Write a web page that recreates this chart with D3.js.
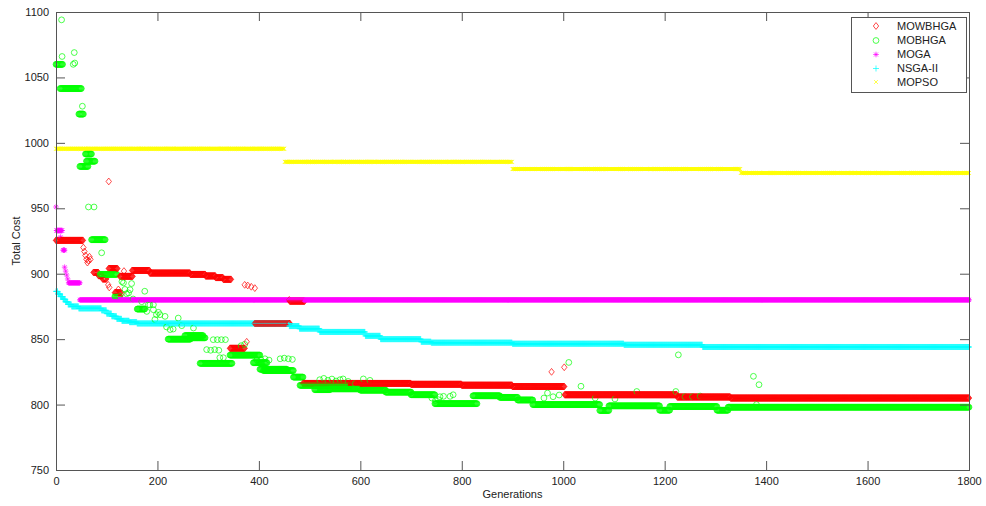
<!DOCTYPE html>
<html>
<head>
<meta charset="utf-8">
<script src="https://cdn.jsdelivr.net/npm/d3@7"></script>
<style>
  html, body { margin: 0; padding: 0; background: #fff; }
  svg { display: block; font-family: 'Liberation Sans', Arial, Helvetica, sans-serif; }
</style>
</head>
<body>
<div id="chart"></div>
<script>
// Series order as in the legend
const seriesNames = ['MOWBHGA', 'MOBHGA', 'MOGA', 'NSGA-II', 'MOPSO'];
const xTicks = [0, 200, 400, 600, 800, 1000, 1200, 1400, 1600, 1800];
const yTicks = [750, 800, 850, 900, 950, 1000, 1050, 1100];

// Runs: [firstGen, lastGen, totalCost], one marker per generation
const mowbhgaRuns = [
  [0, 53, 925.5], [74, 83, 901], [84, 91, 898.5], [92, 99, 896], [104, 121, 904],
  [116, 127, 885.5], [126, 151, 898], [150, 184, 902.5], [185, 264, 900.5],
  [265, 294, 899.5], [295, 314, 898.3], [315, 329, 897], [330, 345, 895.7],
  [343, 372, 843], [392, 461, 862], [461, 490, 879], [487, 699, 816.2],
  [700, 799, 815.5], [800, 899, 814.8], [900, 1002, 813.8], [1003, 1224, 807.5],
  [1225, 1329, 805.8], [1330, 1800, 805]
];
const mowbhgaPoints = [
  [54, 920], [56, 917], [58, 914], [60, 911], [62, 908.5], [64, 910], [66, 913], [68, 911],
  [103, 891.5], [104, 970.5], [105, 889.5], [123, 888], [130, 885], [134, 902],
  [372, 891.5], [376, 848], [378, 891], [385, 890], [392, 889], [460, 880],
  [977, 825], [1002, 828.5]
];

const mobhgaRuns = [
  [0, 13, 1060], [8, 50, 1041.5], [45, 54, 1022], [47, 63, 982], [58, 70, 991.5],
  [60, 77, 986], [70, 97, 926], [87, 120, 899.5], [116, 126, 882.6], [160, 175, 873],
  [221, 265, 850], [254, 290, 852.7], [264, 294, 851], [284, 347, 831.5],
  [343, 402, 837.8], [389, 416, 832], [402, 455, 827], [409, 468, 826], [468, 487, 821],
  [481, 580, 814.7], [510, 540, 811.4], [540, 600, 812], [600, 650, 811],
  [650, 700, 809.5], [700, 747, 807.5], [747, 830, 800.7], [822, 875, 806.7],
  [875, 910, 805.5], [910, 940, 803.5], [940, 1072, 800], [1072, 1090, 795.5],
  [1090, 1190, 799], [1190, 1210, 795.7], [1210, 1303, 798.5], [1303, 1325, 795.7],
  [1325, 1800, 798]
];
const mobhgaPoints = [
  [11, 1094], [12, 1066], [34, 1060], [36, 1069], [37, 1061], [52, 1028], [64, 951], [75, 951],
  [90, 916], [130, 894], [133, 893], [136, 888], [139, 884.7], [143, 885.3], [146, 887.8],
  [149, 892.5], [152, 880.7], [169, 878.6], [175, 886.6], [179, 871.2], [182, 876.3],
  [185, 876.2], [192, 876.3], [192, 872.5], [195, 865], [198, 868.7], [202, 870.5],
  [205, 868.7], [215, 867.4], [218, 859.3], [225, 857.3], [231, 857.7], [241, 866.1],
  [248, 860.3], [271, 858.5], [297, 842], [305, 841.5], [310, 849.6], [313, 842],
  [318, 849.6], [321, 841.5], [323, 835.8], [326, 849.6], [330, 835.8], [334, 849.6],
  [365, 845], [372, 846], [396, 834], [404, 834.5], [412, 835], [420, 834], [442, 835],
  [450, 835.5], [458, 835], [466, 834.5], [520, 819], [528, 820], [536, 818.5],
  [544, 819.5], [552, 818], [560, 819], [566, 819.6], [576, 817.7], [590, 816],
  [606, 819.6], [619, 818.5], [741, 805], [748, 803], [754, 803.7], [757, 806],
  [764, 806.3], [777, 806.3], [783, 807.5], [962, 805], [969, 808.8], [980, 806],
  [992, 807.3], [1011, 832.2], [1035, 814], [1063, 805], [1102, 804.3], [1145, 810],
  [1222, 810], [1227, 838], [1240, 806], [1255, 806], [1270, 806.5], [1375, 821.6],
  [1381, 800], [1386, 815.2]
];

const mogaRuns = [[0, 0, 951], [1, 12, 933], [14, 17, 918], [25, 47, 893], [47, 1800, 880]];
const mogaPoints = [[9, 928], [17, 905], [19, 902], [21, 899], [23, 896]];

const nsgaRuns = [
  [0, 3, 886.5], [4, 8, 884.5], [9, 13, 882.5], [14, 18, 880.5], [19, 23, 878.5],
  [24, 30, 876.5], [31, 44, 875], [45, 89, 873.5], [90, 99, 872], [100, 109, 869.5],
  [110, 119, 867.5], [120, 129, 865.5], [130, 144, 864], [145, 159, 863], [160, 459, 862],
  [460, 479, 860], [480, 519, 858], [520, 609, 855.5], [610, 639, 852.5], [640, 719, 850],
  [720, 739, 848], [740, 899, 847.3], [900, 1119, 846.5], [1120, 1274, 845.7],
  [1275, 1800, 844]
];
const nsgaPoints = [];

const mopsoRuns = [[0, 450, 995.5], [451, 899, 985.5], [900, 1349, 980], [1350, 1800, 977]];
const mopsoPoints = [];

const seriesRuns = [mowbhgaRuns, mobhgaRuns, mogaRuns, nsgaRuns, mopsoRuns];
const seriesPoints = [mowbhgaPoints, mobhgaPoints, mogaPoints, nsgaPoints, mopsoPoints];
const colors = ['#ff0000', '#00ff00', '#ff00ff', '#00ffff', '#ffff00'];

// MATLAB-like marker shapes
const shapes = [
  'M0,-3.4L2.7,0L0,3.4L-2.7,0Z',
  'M2.9,0A2.9,2.9 0 1,1 -2.9,0A2.9,2.9 0 1,1 2.9,0Z',
  'M-2.8,0H2.8M0,-2.8V2.8M-2,-2L2,2M-2,2L2,-2',
  'M-3,0H3M0,-3V3',
  'M-1.9,-1.9L1.9,1.9M-1.9,1.9L1.9,-1.9'
];

const totalW = 986, totalH = 506;
const margin = { top: 12, right: 17, bottom: 36, left: 56 };
const W = totalW - margin.left - margin.right;
const H = totalH - margin.top - margin.bottom;

const svg = d3.select('#chart').append('svg')
  .attr('width', totalW).attr('height', totalH);

const g = svg.append('g').attr('transform', `translate(${margin.left},${margin.top})`);

const x = d3.scaleLinear().domain([0, 1800]).range([0, W]);
const y = d3.scaleLinear().domain([750, 1100]).range([H, 0]);

// Flatten everything; drawn generation by generation so later ones sit on top
const marks = [];
seriesRuns.forEach((runs, s) => {
  runs.forEach(([g0, g1, v]) => {
    for (let gen = g0; gen <= g1; gen++) marks.push({ gen, v, s });
  });
  seriesPoints[s].forEach(([gen, v]) => marks.push({ gen, v, s }));
});
marks.sort((a, b) => a.gen - b.gen || a.s - b.s);

g.append('g').selectAll('path')
  .data(marks).enter().append('path')
  .attr('transform', d => `translate(${x(d.gen).toFixed(2)},${y(d.v).toFixed(2)})`)
  .attr('d', d => shapes[d.s])
  .attr('fill', 'none')
  .attr('stroke', d => colors[d.s])
  .attr('stroke-width', 0.7);

// Axes, ticks pointing inwards on all four sides
const axisColor = '#555';
const styleAxis = sel => {
  sel.select('.domain').remove();
  sel.selectAll('line').attr('stroke', axisColor);
  sel.selectAll('text').attr('fill', '#222').attr('font-size', '11px')
    .attr('font-family', "'Liberation Sans', Arial, sans-serif");
};

g.append('g').attr('transform', `translate(0,${H})`)
  .call(d3.axisBottom(x).tickValues(xTicks).tickSizeInner(-9).tickSizeOuter(0).tickPadding(7).tickFormat(d3.format('d')))
  .call(styleAxis);
g.append('g')
  .call(d3.axisTop(x).tickValues(xTicks).tickSizeInner(-9).tickSizeOuter(0).tickFormat(''))
  .call(styleAxis);
g.append('g')
  .call(d3.axisLeft(y).tickValues(yTicks).tickSizeInner(-9).tickSizeOuter(0).tickPadding(7).tickFormat(d3.format('d')))
  .call(styleAxis);
g.append('g').attr('transform', `translate(${W},0)`)
  .call(d3.axisRight(y).tickValues(yTicks).tickSizeInner(-9).tickSizeOuter(0).tickFormat(''))
  .call(styleAxis);

g.append('rect')
  .attr('x', 0.5).attr('y', 0.5).attr('width', W).attr('height', H)
  .attr('fill', 'none').attr('stroke', axisColor);

// Axis titles
svg.append('text')
  .attr('x', margin.left + W / 2).attr('y', 498)
  .attr('text-anchor', 'middle').attr('font-size', '11px').attr('fill', '#222')
  .text('Generations');

svg.append('text')
  .attr('transform', `translate(19.5,${margin.top + H / 2}) rotate(-90)`)
  .attr('text-anchor', 'middle').attr('font-size', '11px').attr('fill', '#222')
  .text('Total Cost');

// Legend
const legend = svg.append('g').attr('transform', 'translate(851,17)');
legend.append('rect')
  .attr('x', 0.5).attr('y', 0.5).attr('width', 115).attr('height', 75)
  .attr('fill', '#fff').attr('stroke', axisColor);

const rowY = [9, 23.5, 37.5, 51.5, 65];
const rows = legend.selectAll('.row')
  .data(seriesNames).enter().append('g')
  .attr('class', 'row')
  .attr('transform', (d, i) => `translate(0,${rowY[i]})`);

rows.append('path')
  .attr('transform', 'translate(25,0)')
  .attr('d', (d, i) => shapes[i])
  .attr('fill', 'none')
  .attr('stroke', (d, i) => colors[i])
  .attr('stroke-width', 0.7);

rows.append('text')
  .attr('x', 46).attr('dy', '0.35em')
  .attr('font-size', '11px').attr('fill', '#222')
  .text(d => d);
</script>
</body>
</html>
